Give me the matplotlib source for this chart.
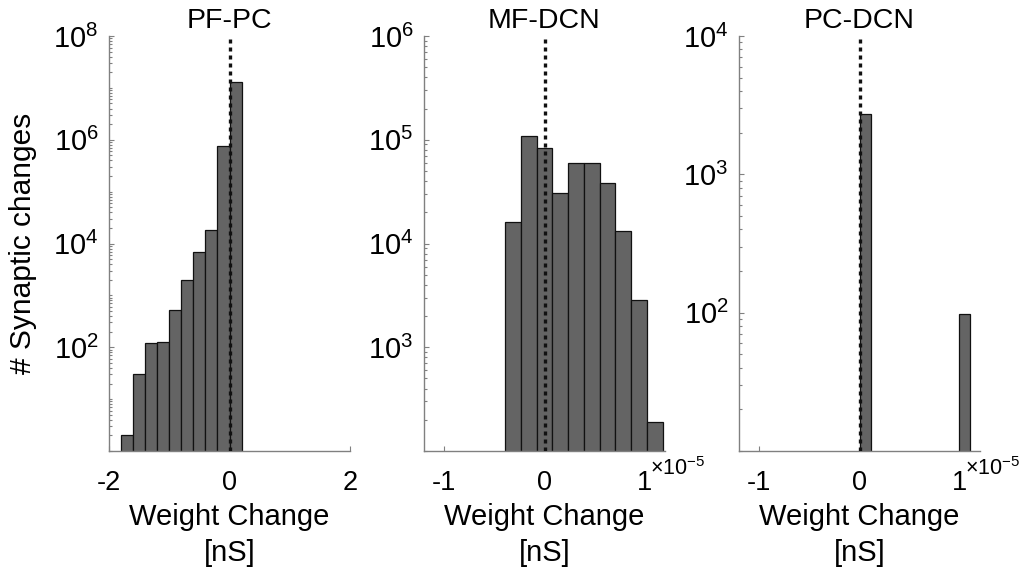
import numpy as np
import matplotlib
matplotlib.use("Agg")
import matplotlib.pyplot as plt
from matplotlib.ticker import FixedLocator, LogLocator, NullFormatter, LogFormatterSciNotation

# ---------------- data ----------------
TITLES = ["PF-PC", "MF-DCN", "PC-DCN"]

# PF-PC histogram (weight change in nS)
PF_PC_EDGES = [-1.8, -1.6, -1.4, -1.2, -1.0, -0.8, -0.6, -0.4, -0.2, 0.0, 0.2]
PF_PC_COUNTS = [2, 30, 120, 125, 530, 2000, 6900, 18000, 760000, 12900000]

# MF-DCN histogram (weight change in units of 1e-5 nS)
MF_DCN_EDGES = [-0.392, -0.235, -0.078, 0.078, 0.235, 0.392, 0.549, 0.706, 0.863, 1.020, 1.177]
MF_DCN_COUNTS = [16200, 108000, 84000, 30800, 59100, 59100, 37900, 13200, 2880, 190]

# PC-DCN histogram (weight change in units of 1e-5 nS), non-empty bins only
PC_DCN_LEFT = [0.0, 0.99]
PC_DCN_WIDTH = [0.113, 0.113]
PC_DCN_COUNTS = [2735, 97]

X_TICKS = [[-2, 0, 2], [-1, 0, 1], [-1, 0, 1]]
X_TICKLABELS = [["-2", "0", "2"], ["-1", "0", "1"], ["-1", "0", "1"]]
X_LIMS = [(-2, 2), (-1.2, 1.2), (-1.2, 1.2)]
Y_LIMS = [(1, 1e8), (1e2, 1e6), (1e1, 1e4)]
Y_TICKS = [[1e2, 1e4, 1e6, 1e8], [1e3, 1e4, 1e5, 1e6], [1e2, 1e3, 1e4]]
X_OFFSET_LABEL = [None, "\u00d710$^{-5}$", "\u00d710$^{-5}$"]

X_LABEL = "Weight Change\n[nS]"
Y_LABEL = "# Synaptic changes"

# ---------------- style ----------------
plt.rcParams.update({
    "font.family": ["Liberation Sans", "DejaVu Sans"],
    "mathtext.fontset": "custom",
    "mathtext.rm": "Liberation Sans",
    "mathtext.it": "Liberation Sans:italic",
    "mathtext.bf": "Liberation Sans:bold",
    "axes.unicode_minus": False,
})
BAR_COLOR = "#646464"
AX_COLOR = "#808080"

W, H = 1024, 575
fig = plt.figure(figsize=(W / 100, H / 100), dpi=100)
lefts = [109, 424, 739]
ax_w, ax_top, ax_bot = 241, 36, 451

bars = [
    (PF_PC_EDGES[:-1], PF_PC_COUNTS, np.diff(PF_PC_EDGES)),
    (MF_DCN_EDGES[:-1], MF_DCN_COUNTS, np.diff(MF_DCN_EDGES)),
    (PC_DCN_LEFT, PC_DCN_COUNTS, PC_DCN_WIDTH),
]

for i in range(3):
    ax = fig.add_axes([lefts[i] / W, 1 - ax_bot / H, ax_w / W, (ax_bot - ax_top) / H])
    ax.set_yscale("log", nonpositive="clip")
    x, c, w = bars[i]
    ax.bar(x, c, width=w, align="edge", color=BAR_COLOR, edgecolor="#111111",
           linewidth=0.9, zorder=2)
    ax.set_xlim(*X_LIMS[i])
    ax.set_ylim(*Y_LIMS[i])
    ax.axvline(0, color="#111111", linestyle=(0, (1.2, 1.2)), linewidth=2.4, zorder=3)

    for s in ("top", "right"):
        ax.spines[s].set_visible(False)
    for s in ("left", "bottom"):
        ax.spines[s].set_color(AX_COLOR)
        ax.spines[s].set_linewidth(1.0)

    ax.set_xticks(X_TICKS[i])
    ax.set_xticklabels(X_TICKLABELS[i])
    ax.yaxis.set_major_locator(FixedLocator(Y_TICKS[i]))
    ax.yaxis.set_major_formatter(LogFormatterSciNotation())
    ax.yaxis.set_minor_locator(LogLocator(base=10, subs=np.arange(1, 10), numticks=100))
    ax.yaxis.set_minor_formatter(NullFormatter())

    ax.tick_params(axis="both", which="both", direction="in", color=AX_COLOR, width=0.8)
    ax.tick_params(axis="x", which="major", labelsize=19.5, pad=14, length=3.5)
    ax.tick_params(axis="y", which="major", labelsize=21, pad=7.5, length=3.5)
    ax.tick_params(axis="y", which="minor", length=2)

    ax.set_title(TITLES[i], fontsize=20.5, pad=6)
    ax.set_xlabel(X_LABEL, fontsize=21, linespacing=1.35)
    ax.xaxis.set_label_coords(0.5, -0.125)

    if X_OFFSET_LABEL[i]:
        ax.annotate(X_OFFSET_LABEL[i], xy=(X_TICKS[i][-1], 0),
                    xycoords=("data", "axes fraction"), xytext=(3.5, -17),
                    textcoords="offset points", ha="left", va="baseline", fontsize=15.5)

    if i == 0:
        ax.set_ylabel(Y_LABEL, fontsize=21.5)
        ax.yaxis.set_label_coords(-0.30, 0.5)

fig.savefig("out.png", dpi=100)
